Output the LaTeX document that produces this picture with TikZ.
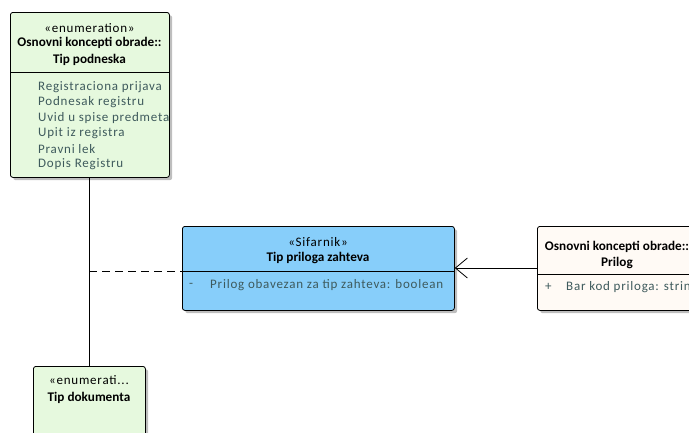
\documentclass[tikz,border=0pt]{standalone}
\usepackage{fontspec}
\setmainfont{Carlito}
\newfontfamily\attrfont[LetterSpace=6]{Carlito}
\usetikzlibrary{arrows.meta}
\definecolor{greenfill}{RGB}{230,249,222}
\definecolor{bluefill}{RGB}{135,206,250}
\definecolor{creamfill}{RGB}{255,250,245}
\definecolor{attrtext}{RGB}{62,90,92}
\definecolor{shadowc}{RGB}{190,190,190}
\tikzset{
  boxshape/.style={draw=black, line width=0.8pt, rounded corners=2.5pt, anchor=north west, inner sep=0pt},
  shadowbox/.style={fill=shadowc, rounded corners=2.5pt, anchor=north west, inner sep=0pt, draw=none},
  stereo/.style={font=\attrfont\fontsize{13}{15}\selectfont, inner sep=0pt},
  title/.style={font=\fontsize{13.2}{15}\selectfont\bfseries, inner sep=0pt},
  attr/.style={font=\attrfont\fontsize{13}{15}\selectfont, text=attrtext, inner sep=0pt, anchor=west},
  sep/.style={line width=0.8pt},
  conn/.style={line width=0.8pt},
}
\begin{document}
\begin{tikzpicture}[x=1pt,y=-1pt]
\useasboundingbox (0,0) rectangle (689,432);
\clip (0,0) rectangle (689,432);
% shadows
\node[shadowbox, minimum width=159pt, minimum height=165pt] (s1) at (13,15) {};
\node[shadowbox, minimum width=272pt, minimum height=84pt] (s2) at (185,229) {};
\node[shadowbox, minimum width=160pt, minimum height=84pt] (s3) at (540,229) {};
\node[shadowbox, minimum width=112pt, minimum height=80pt] (s4) at (36,369) {};
% box 1
\node[boxshape, fill=greenfill, minimum width=159pt, minimum height=165pt] (tp) at (10,12) {};
\draw[sep] (10,72) coordinate (tpl) -- (169,72) coordinate (tpr);
\node[stereo] (tp1) at (89.5,28) {«enumeration»};
\node[title] (tp2) at (89.5,43) {Osnovni koncepti obrade::};
\node[title] (tp3) at (89.5,60) {Tip podneska};
\node[attr] (a1) at (38,87) {Registraciona prijava};
\node[attr] (a2) at (38,102) {Podnesak registru};
\node[attr] (a3) at (38,118) {Uvid u spise predmeta};
\node[attr] (a4) at (38,133) {Upit iz registra};
\node[attr] (a5) at (38,149) {Pravni lek};
\node[attr] (a6) at (38,164) {Dopis Registru};
% box 2
\node[boxshape, fill=bluefill, minimum width=272pt, minimum height=84pt] (tz) at (182,226) {};
\draw[sep] (182,271) -- (454,271);
\node[stereo] (tz1) at (318,242) {«Sifarnik»};
\node[title] (tz2) at (318,258) {Tip priloga zahteva};
\node[attr] (tzm) at (189,285) {-};
\node[attr] (tza) at (210,285) {Prilog obavezan za tip zahteva: boolean};
% box 3
\node[boxshape, fill=creamfill, minimum width=160pt, minimum height=84pt] (pr) at (537,226) {};
\draw[sep] (537,274) -- (697,274);
\node[title] (pr1) at (617,247) {Osnovni koncepti obrade::};
\node[title] (pr2) at (617,263) {Prilog};
\node[attr] (prm) at (545,287) {+};
\node[attr] (pra) at (566,287) {Bar kod priloga: string};
% box 4
\node[boxshape, fill=greenfill, minimum width=112pt, minimum height=80pt] (td) at (33,366) {};
\node[stereo] (td1) at (89,380) {«enumerati...};
\node[title] (td2) at (89,398) {Tip dokumenta};
% connectors
\draw[conn] (tp.south -| 89,0) -- (td.north -| 89,0);
\coordinate (j) at (89,271);
\draw[conn, dashed, dash pattern=on 8pt off 5pt] (j) -- (tz.west |- j);
\draw[conn, -{Straight Barb[length=12pt, width=20pt, line width=0.8pt]}] (pr.west |- 0,268) -- (tz.east |- 0,268);
\end{tikzpicture}
\end{document}
